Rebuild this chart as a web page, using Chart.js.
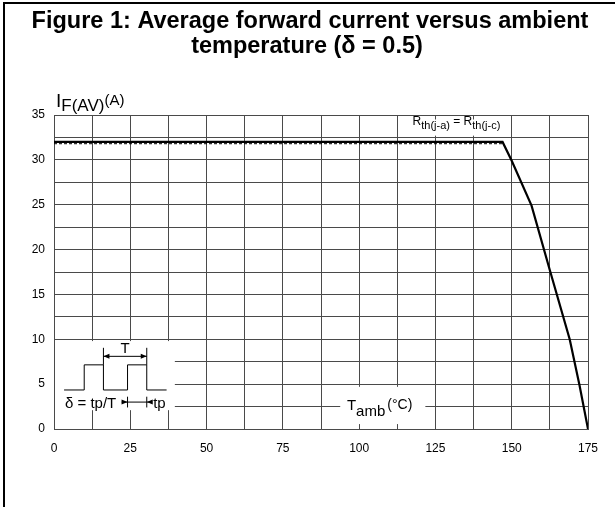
<!DOCTYPE html>
<html>
<head>
<meta charset="utf-8">
<script src="https://cdn.jsdelivr.net/npm/chart.js@4"></script>
<style>
  html, body { margin: 0; padding: 0; background: #fff; }
  #Chart { display: block; }
</style>
</head>
<body>
<canvas id="Chart" width="615" height="507"></canvas>
<script>
// curve: IF(AV) (A) vs Tamb (degC)
let tempValues = [0, 147, 150, 156.5, 162.5, 169, 172.2, 175];
let currentValues = [32, 32, 29.9, 24.9, 17.7, 10, 4.9, 0];
// thin dashed trace sitting under the flat part
let dashedTemps = [0, 147];
let dashedCurrents = [31.8, 31.8];

let titleLines = ['Figure 1: Average forward current versus ambient', 'temperature (\u03b4 = 0.5)'];
let xTickLabels = [0, 25, 50, 75, 100, 125, 150, 175];
let yTickLabels = [0, 5, 10, 15, 20, 25, 30, 35];

const FONT = "'Liberation Sans', Arial, sans-serif";
const GRID = '#4a4a4a';

// draws the frame, title, white label boxes, labels and the duty-cycle sketch
const extras = {
  id: 'extras',
  beforeDraw(chart) {
    const ctx = chart.ctx;
    ctx.save();
    ctx.fillStyle = '#fff';
    ctx.fillRect(0, 0, chart.width, chart.height);
    ctx.restore();
  },
  afterDatasetsDraw(chart) {
    const ctx = chart.ctx;
    const xs = chart.scales.x, ys = chart.scales.y;
    const X = v => xs.getPixelForValue(v);
    const Y = v => ys.getPixelForValue(v);
    ctx.save();

    // title (centred on the whole figure, not the plot)
    ctx.fillStyle = '#000';
    ctx.textAlign = 'center';
    ctx.textBaseline = 'alphabetic';
    ctx.font = 'bold 23.5px ' + FONT;
    ctx.fillText(titleLines[0], 310, 28);
    ctx.fillText(titleLines[1], 307, 53);

    // white boxes that hide the grid behind labels
    ctx.fillStyle = '#fff';
    ctx.fillRect(X(0) + 1, Y(9.8), X(39.6) - X(0) - 1, Y(2.1) - Y(9.8));
    ctx.fillRect(X(93.8), Y(4.7), X(121.7) - X(93.8), Y(0.55) - Y(4.7));
    ctx.fillRect(X(116.5), Y(34.5), X(147.5) - X(116.5), Y(32.7) - Y(34.5));

    ctx.fillStyle = '#000';
    ctx.textAlign = 'left';

    // y axis title  I F(AV) (A)
    let x = 56;
    ctx.font = '19px ' + FONT;
    ctx.fillText('I', x, 107);
    x += ctx.measureText('I').width;
    ctx.font = '17px ' + FONT;
    ctx.fillText('F(AV)', x, 111);
    x += ctx.measureText('F(AV)').width;
    ctx.font = '15px ' + FONT;
    ctx.fillText('(A)', x, 105);

    // Rth(j-a) = Rth(j-c)
    x = X(117.5);
    const rb = Y(32.5) - 12;
    ctx.font = '12px ' + FONT;
    ctx.fillText('R', x, rb); x += ctx.measureText('R').width;
    ctx.font = '11px ' + FONT;
    ctx.fillText('th(j-a)', x, rb + 4); x += ctx.measureText('th(j-a)').width;
    ctx.font = '12px ' + FONT;
    ctx.fillText(' = R', x, rb); x += ctx.measureText(' = R').width;
    ctx.font = '11px ' + FONT;
    ctx.fillText('th(j-c)', x, rb + 4);

    // Tamb (degC)
    x = X(96);
    const tb = Y(2.1);
    ctx.font = '15px ' + FONT;
    ctx.fillText('T', x, tb); x += ctx.measureText('T').width;
    ctx.fillText('amb', x, tb + 6); x += ctx.measureText('amb').width + 2;
    ctx.font = '14px ' + FONT;
    ctx.fillText('(\u00b0C)', x, tb - 1);

    // duty cycle sketch
    ctx.strokeStyle = '#000';
    ctx.lineWidth = 1;
    const lo = Y(4.35), hi = Y(7.15);
    const edges = [3.3, 9.9, 16.2, 24.1, 30.4, 36.9];
    ctx.beginPath();
    ctx.moveTo(X(edges[0]), lo);
    ctx.lineTo(X(edges[1]), lo); ctx.lineTo(X(edges[1]), hi);
    ctx.lineTo(X(edges[2]), hi); ctx.lineTo(X(edges[2]), lo);
    ctx.lineTo(X(edges[3]), lo); ctx.lineTo(X(edges[3]), hi);
    ctx.lineTo(X(edges[4]), hi); ctx.lineTo(X(edges[4]), lo);
    ctx.lineTo(X(edges[5]), lo);
    // T markers
    ctx.moveTo(X(edges[2]), Y(9.05)); ctx.lineTo(X(edges[2]), hi);
    ctx.moveTo(X(edges[4]), Y(9.05)); ctx.lineTo(X(edges[4]), hi);
    const ta = Y(8.1);
    ctx.moveTo(X(edges[2]), ta); ctx.lineTo(X(edges[4]), ta);
    // tp markers
    const pa = Y(3.0);
    ctx.moveTo(X(edges[3]), Y(3.6)); ctx.lineTo(X(edges[3]), Y(2.4));
    ctx.moveTo(X(edges[4]), Y(3.6)); ctx.lineTo(X(edges[4]), Y(2.4));
    ctx.moveTo(X(22.2), pa); ctx.lineTo(X(31.8), pa);
    ctx.stroke();

    const arrow = (px, py, dir) => {
      ctx.beginPath();
      ctx.moveTo(px, py);
      ctx.lineTo(px - dir * 6, py - 2.5);
      ctx.lineTo(px - dir * 6, py + 2.5);
      ctx.closePath();
      ctx.fill();
    };
    arrow(X(edges[2]), ta, -1);
    arrow(X(edges[4]), ta, 1);
    arrow(X(edges[3]), pa, 1);
    arrow(X(edges[4]), pa, -1);

    ctx.font = '15px ' + FONT;
    ctx.textAlign = 'center';
    ctx.fillText('T', X(23.3), Y(8.45));
    ctx.textAlign = 'left';
    ctx.fillText('\u03b4 = tp/T', X(3.6), Y(2.9) + 5);
    ctx.fillText('tp', X(32.5), Y(2.9) + 5);

    // frame round the figure
    ctx.fillStyle = '#000';
    ctx.fillRect(3, 2, 2, chart.height - 2);
    ctx.fillRect(3, 2, chart.width - 3, 2);
    ctx.restore();
  }
};

const ctx = document.getElementById('Chart').getContext('2d');
const myChart = new Chart(ctx, {
  type: 'scatter',
  data: {
    datasets: [{
      type: 'line',
      label: 'dashed',
      data: dashedTemps.map((t, i) => ({ x: t, y: dashedCurrents[i] })),
      borderColor: '#000',
      borderWidth: 1,
      borderDash: [3, 2],
      pointRadius: 0,
      fill: false
    }, {
      type: 'line',
      label: 'IF(AV)',
      data: tempValues.map((t, i) => ({ x: t, y: currentValues[i] })),
      borderColor: '#000',
      borderWidth: 2.2,
      pointRadius: 0,
      tension: 0,
      fill: false
    }]
  },
  options: {
    responsive: false,
    animation: false,
    layout: { padding: { left: 0, right: 27, top: 115, bottom: 0 } },
    plugins: {
      legend: { display: false },
      tooltip: { enabled: false },
      title: { display: false }
    },
    scales: {
      x: {
        type: 'linear',
        min: 0,
        max: 175,
        afterFit: (scale) => { scale.height = 78; },
        ticks: {
          stepSize: 12.5,
          autoSkip: false,
          maxRotation: 0,
          padding: 12,
          color: '#000',
          font: { family: FONT, size: 12 },
          callback: (v) => xTickLabels.includes(v) ? String(v) : ''
        },
        grid: { color: GRID, lineWidth: 1, drawTicks: false },
        border: { color: GRID, width: 1 }
      },
      y: {
        type: 'linear',
        min: 0,
        max: 35,
        afterFit: (scale) => { scale.width = 54; },
        ticks: {
          stepSize: 2.5,
          autoSkip: false,
          padding: 9,
          color: '#000',
          font: { family: FONT, size: 12 },
          callback: (v) => yTickLabels.includes(v) ? String(v) : ''
        },
        grid: { color: GRID, lineWidth: 1, drawTicks: false },
        border: { color: GRID, width: 1 }
      }
    }
  },
  plugins: [extras]
});
</script>
</body>
</html>
